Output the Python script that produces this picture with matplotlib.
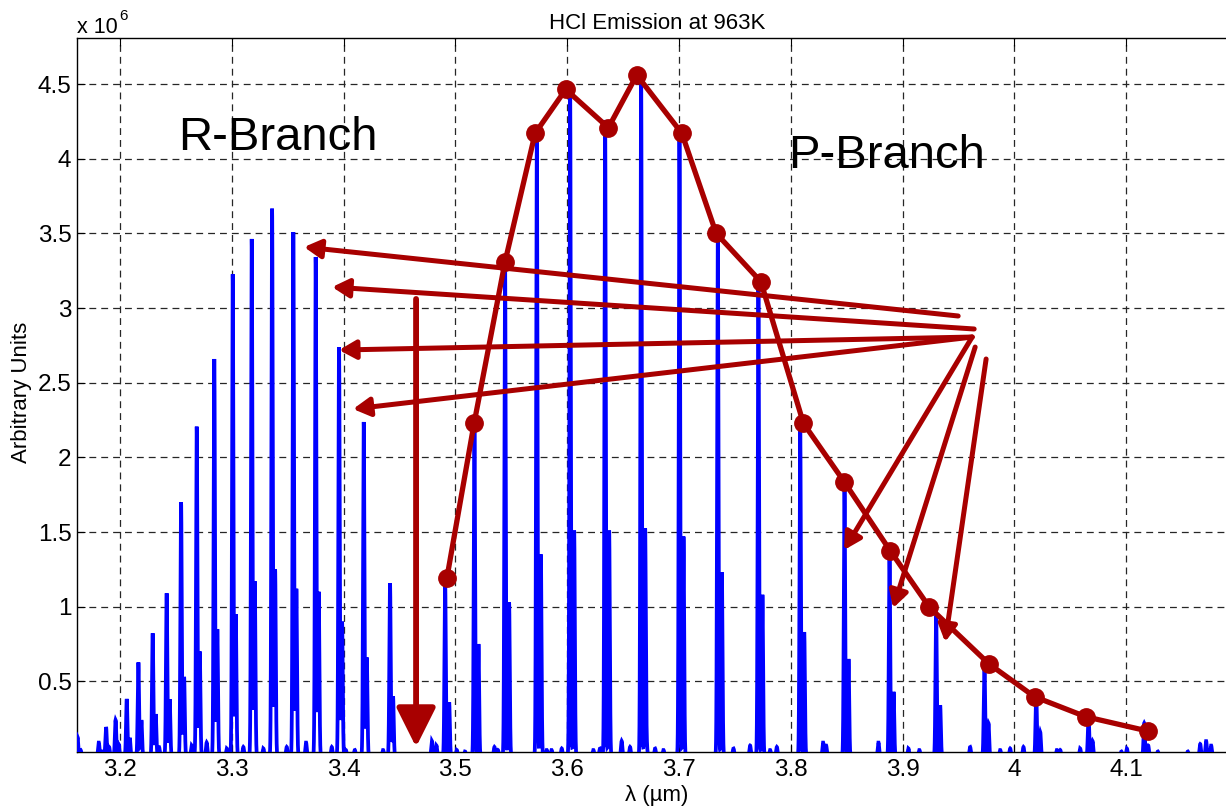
import numpy as np
import matplotlib
matplotlib.use("Agg")
import matplotlib.pyplot as plt

plt.rcParams["font.family"] = ["Liberation Sans", "DejaVu Sans"]

# ---- line list (wavelength in um, intensity in units of 1e6) ----
# R-branch: H35Cl line centres, H35Cl heights, H37Cl partner heights
r_lines = [3.1620, 3.1810, 3.1875, 3.1960, 3.2060, 3.2164, 3.2292, 3.2417,
           3.2546, 3.2686, 3.2843, 3.3008, 3.3178, 3.3360, 3.3550, 3.3750,
           3.3959, 3.4180, 3.4415]
r_main = [0.127, 0.090, 0.194, 0.241, 0.382, 0.627, 0.822, 1.090,
          1.700, 2.206, 2.659, 3.227, 3.463, 3.666, 3.509, 3.342,
          2.737, 2.237, 1.157]
r_iso = [0.04, 0.03, 0.06, 0.08, 0.12, 0.24, 0.28, 0.38,
         0.53, 0.70, 0.85, 0.95, 1.17, 1.25, 1.12, 1.10,
         0.90, 0.66, 0.40]

# P-branch
p_lines = [3.4908, 3.5170, 3.5444, 3.5728, 3.6026, 3.6339, 3.6661, 3.7004,
           3.7347, 3.7710, 3.8084, 3.8480, 3.8883, 3.9300, 3.9732, 4.0195,
           4.0663, 4.1161]
p_main = [1.17, 2.22, 3.30, 4.16, 4.47, 4.26, 4.55, 4.17,
          3.47, 3.15, 2.20, 1.82, 1.34, 0.94, 0.62, 0.42,
          0.28, 0.22]
p_iso = [0.36, 0.75, 1.03, 1.35, 1.51, 1.51, 1.52, 1.47,
         1.23, 1.08, 0.83, 0.65, 0.43, 0.34, 0.22, 0.16,
         0.10, 0.07]

# isotope shift of the H37Cl partner line (um)
r_shift = 0.0027
p_shift = 0.0036

# weak background features
weak_lines = [3.2349, 3.2641, 3.2775, 3.2955, 3.3103, 3.3282, 3.3491, 3.3664,
              3.3894, 3.4020, 3.4100, 3.4353, 3.4790, 3.4830, 3.5012, 3.5086,
              3.5349, 3.5380, 3.5817, 3.5860, 3.5951, 3.6234, 3.6293, 3.6487,
              3.6562, 3.6711, 3.6786, 3.6861, 3.7487, 3.7636, 3.7815, 3.7875,
              3.8289, 3.8316, 3.8784, 3.9052, 3.9150, 3.9604, 3.9873, 3.9962,
              4.0081, 4.0380, 4.0410, 4.0588, 4.0957, 4.1006, 4.1283, 4.1551,
              4.1662, 4.1715, 4.1760]
weak_heights = [0.06, 0.07, 0.09, 0.05, 0.06, 0.05, 0.06, 0.09,
                0.06, 0.04, 0.04, 0.04, 0.10, 0.07, 0.04, 0.03,
                0.06, 0.04, 0.04, 0.04, 0.05, 0.04, 0.05, 0.10,
                0.06, 0.06, 0.05, 0.04, 0.05, 0.07, 0.04, 0.06,
                0.09, 0.07, 0.09, 0.05, 0.04, 0.06, 0.04, 0.05,
                0.06, 0.04, 0.04, 0.05, 0.03, 0.05, 0.03, 0.03,
                0.08, 0.10, 0.07]

# P-branch envelope drawn over the peaks
env_x = [3.4923, 3.5167, 3.5444, 3.5713, 3.5987, 3.6368, 3.6622, 3.7025,
         3.7332, 3.7732, 3.8113, 3.8477, 3.8889, 3.9240, 3.9774, 4.0180,
         4.0639, 4.1194]
env_y = [1.190, 2.228, 3.311, 4.171, 4.465, 4.208, 4.561, 4.171,
         3.501, 3.177, 2.228, 1.837, 1.375, 0.996, 0.616, 0.397,
         0.263, 0.167]

x_ticks = [3.2, 3.3, 3.4, 3.5, 3.6, 3.7, 3.8, 3.9, 4.0, 4.1]
y_ticks = [0.5, 1.0, 1.5, 2.0, 2.5, 3.0, 3.5, 4.0, 4.5]

BLUE = "#0000FF"
RED = "#A80000"

# ---- synthesise the spectrum from the line list ----
wl = np.arange(3.15, 4.21, 0.00005)
spec = np.zeros_like(wl)
sigma = 0.0006


def add_lines(centres, heights, shift=0.0):
    global spec
    for c, h in zip(centres, heights):
        spec = spec + h * np.exp(-0.5 * ((wl - c - shift) / sigma) ** 2)


add_lines(r_lines, r_main)
add_lines(r_lines, r_iso, r_shift)
add_lines(p_lines, p_main)
add_lines(p_lines, p_iso, p_shift)
add_lines(weak_lines, weak_heights)

# ---- figure ----
W, H = 1226, 809
fig = plt.figure(figsize=(W / 100, H / 100), dpi=100)
ax = fig.add_axes([77 / W, 1 - 752 / H, (1238 - 77) / W, (752 - 38) / H])

ax.plot(wl, spec, color=BLUE, lw=2.7, zorder=3, solid_joinstyle="miter")

ax.set_xlim(3.1615, 4.2)
ax.set_ylim(0.0268, 4.809)
ax.set_xticks(x_ticks)
ax.set_xticklabels([f"{v:g}" for v in x_ticks])
ax.set_yticks(y_ticks)
ax.set_yticklabels([f"{v:g}" for v in y_ticks])
ax.tick_params(direction="in", length=6, width=0.8, labelsize=17.5,
               top=True, right=True, pad=5)
ax.tick_params(axis="y", pad=4)
for s in ax.spines.values():
    s.set_linewidth(1.0)

ax.set_axisbelow(True)
ax.grid(True, color="0.15", lw=0.9, linestyle=(0, (5.5, 4)))

# envelope
ax.plot(env_x, env_y, "-o", color=RED, lw=3.8, ms=12.5, zorder=5)


def arrow(tail, tip, ms=20, hl=0.5, hw=0.28, lw=3.6):
    ax.annotate("", xy=tip, xytext=tail, annotation_clip=False,
                arrowprops=dict(arrowstyle=f"-|>,head_length={hl},head_width={hw}",
                                lw=lw, color=RED, shrinkA=0, shrinkB=0,
                                mutation_scale=ms),
                zorder=6)


# arrows from the P-branch to the matching R-branch lines
arrow((3.9497, 2.947), (3.3646, 3.409))
arrow((3.9640, 2.860), (3.3897, 3.141))
arrow((3.9622, 2.806), (3.3959, 2.719))
arrow((3.9622, 2.806), (3.4084, 2.324))
arrow((3.9622, 2.806), (3.8477, 1.380))
arrow((3.9649, 2.739), (3.8915, 0.991))
arrow((3.9747, 2.659), (3.9380, 0.764))
# band gap
arrow((3.4648, 3.061), (3.4648, 0.060), ms=20, hl=1.2, hw=0.6, lw=4.2)

ax.text(3.2519, 4.059, "R-Branch", fontsize=34, ha="left", va="baseline")
ax.text(3.7976, 3.938, "P-Branch", fontsize=34, ha="left", va="baseline")

fig.text(657 / W, 1 - 29 / H, "HCl Emission at 963K", fontsize=16,
         ha="center", va="baseline")
fig.text(657 / W, 1 - 795 / H, "λ (µm)", fontsize=16, ha="center", va="center")
fig.text(22 / W, 1 - 392 / H, "Arbitrary Units", fontsize=16, rotation=90,
         ha="center", va="center")
fig.text(77 / W, 1 - 33 / H, "x 10", fontsize=15.5, ha="left", va="baseline")
fig.text(119 / W, 1 - 20 / H, "6", fontsize=11, ha="left", va="baseline")

fig.savefig("out.png", dpi=100)
